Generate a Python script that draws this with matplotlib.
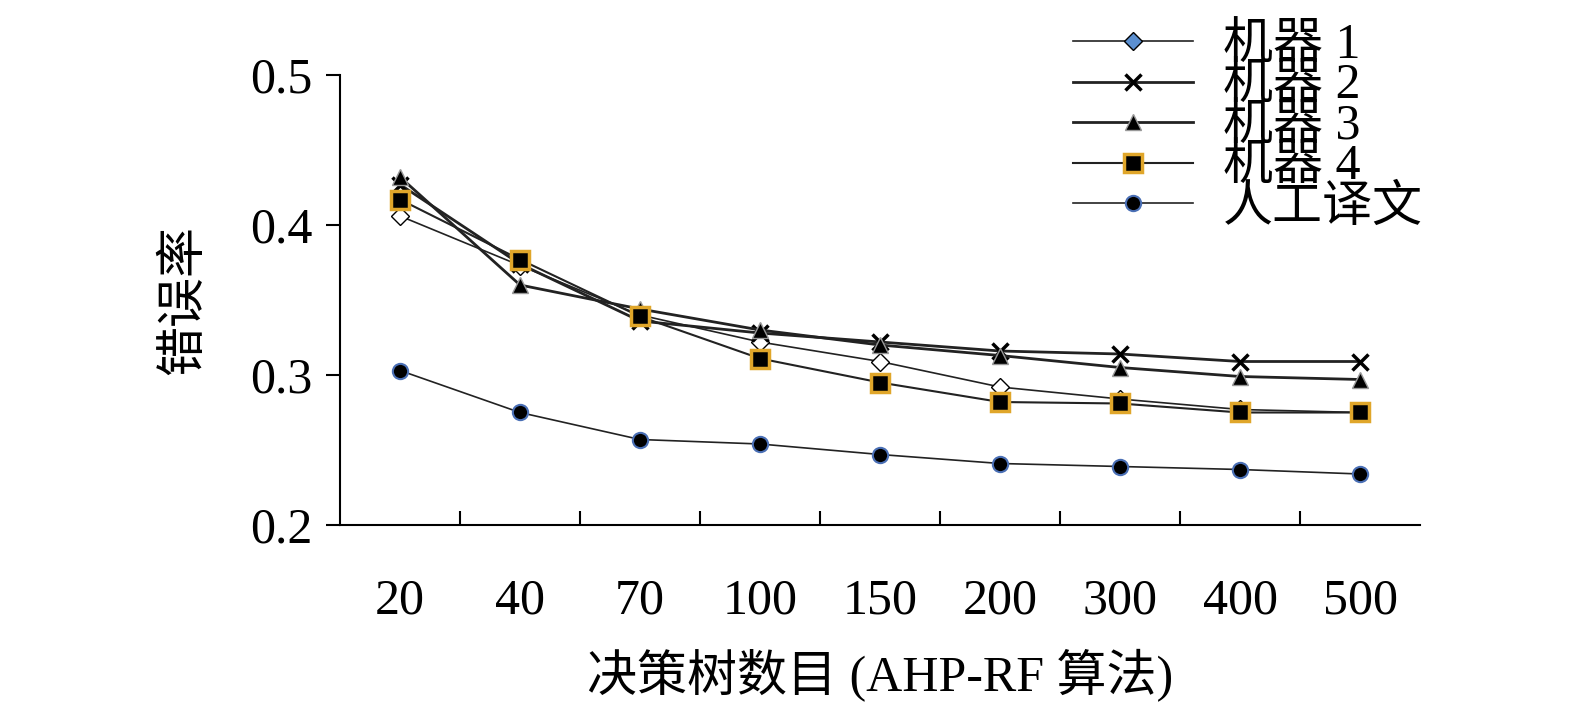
import matplotlib.pyplot as plt
import numpy as np

plt.rcParams['font.family'] = ['Liberation Serif', 'Noto Sans CJK SC']

trees = ['20', '40', '70', '100', '150', '200', '300', '400', '500']
m1 = [0.406, 0.373, 0.340, 0.322, 0.309, 0.292, 0.284, 0.277, 0.275]
m2 = [0.427, 0.374, 0.336, 0.328, 0.322, 0.316, 0.314, 0.309, 0.309]
m3 = [0.432, 0.360, 0.344, 0.330, 0.320, 0.313, 0.305, 0.299, 0.297]
m4 = [0.417, 0.377, 0.339, 0.311, 0.295, 0.282, 0.281, 0.275, 0.275]
human = [0.303, 0.275, 0.257, 0.254, 0.247, 0.241, 0.239, 0.237, 0.234]

fig = plt.figure(figsize=(15.75, 7.09), dpi=100)
ax = fig.add_axes([340/1575, 1-525/709, 1080/1575, 450/709])
x = np.arange(len(trees)) + 0.5

ax.plot(x, m1, color='#222222', lw=1.2, marker='D', ms=9, mfc='white', mec='black', label='机器 1')
ax.plot(x, m2, color='#222222', lw=2, marker='x', ms=12, mew=2.5, mec='black', label='机器 2')
ax.plot(x, m3, color='#222222', lw=2, marker='^', ms=11, mfc='black', mec='#999999', label='机器 3')
ax.plot(x, m4, color='#222222', lw=1.5, marker='s', ms=13, mfc='black', mec='#e0a62a', mew=2.5, label='机器 4')
ax.plot(x, human, color='#222222', lw=1.2, marker='o', ms=11, mfc='black', mec='#4a6fb5', mew=1.5, label='人工译文')

ax.set_xlim(0, 9)
ax.set_ylim(0.2, 0.5)
ax.set_yticks([0.2, 0.3, 0.4, 0.5])
ax.set_yticklabels(['0.2', '0.3', '0.4', '0.5'], fontsize=36)
ax.set_xticks(np.arange(1, 9))
ax.set_xticklabels([])
ax.set_xticks(x, minor=True)
ax.set_xticklabels(trees, minor=True, fontsize=36)
ax.tick_params(axis='x', which='major', direction='in', length=10, width=1.5)
ax.tick_params(axis='x', which='minor', length=0, pad=38)
ax.tick_params(axis='y', direction='out', length=10, width=1.5, pad=10)
for s in ['top', 'right']:
    ax.spines[s].set_visible(False)
for s in ['left', 'bottom']:
    ax.spines[s].set_linewidth(1.5)

ax.set_xlabel('决策树数目 (AHP-RF 算法)', fontsize=36, labelpad=18)
ax.set_ylabel('错误率', fontsize=36, labelpad=30)

leg = ax.legend(loc='upper left', bbox_to_anchor=(0.66, 1.16), frameon=False,
                fontsize=36, handlelength=2.4, labelspacing=-0.12, borderaxespad=0,
                handletextpad=0.6)
leg.legend_handles[0].set_markerfacecolor('#5b8fd0')

fig.savefig('out.png', dpi=100)
